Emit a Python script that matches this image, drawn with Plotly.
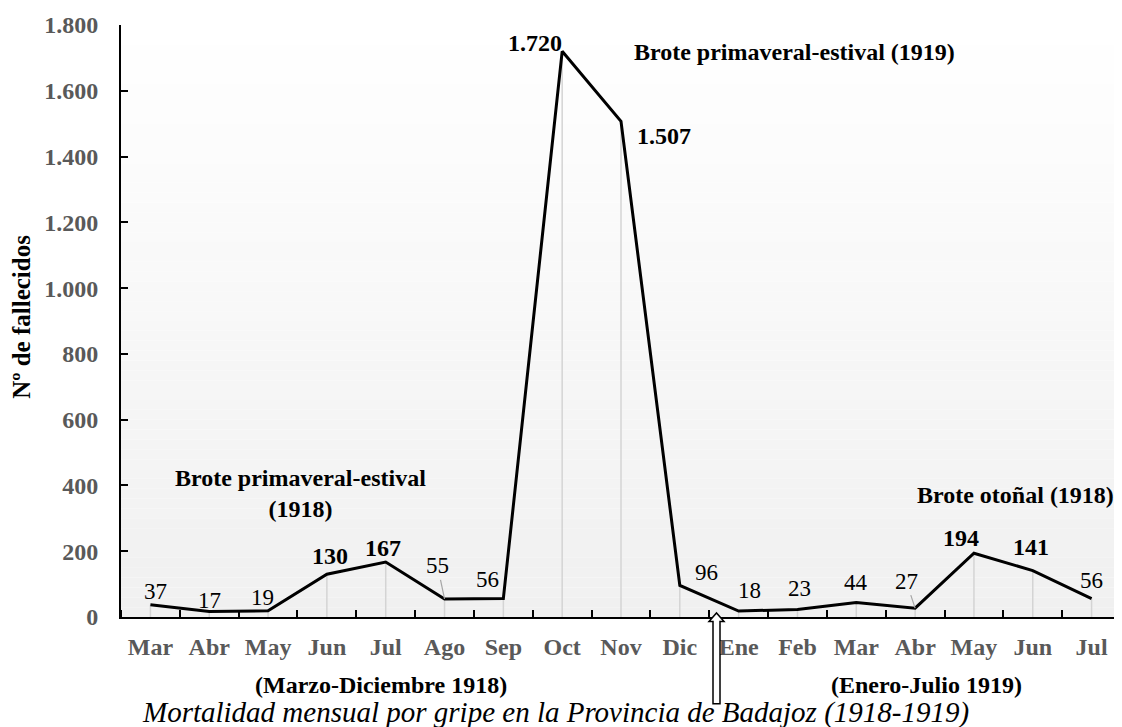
import plotly.graph_objects as go

# ---- data ----
months = ["Mar", "Abr", "May", "Jun", "Jul", "Ago", "Sep", "Oct", "Nov", "Dic",
          "Ene", "Feb", "Mar", "Abr", "May", "Jun", "Jul"]
deaths = [37, 17, 19, 130, 167, 55, 56, 1720, 1507, 96,
          18, 23, 44, 27, 194, 141, 56]
bold_label = [False, False, False, True, True, False, False, True, True, False,
              False, False, False, False, True, True, False]
y_ticks = [0, 200, 400, 600, 800, 1000, 1200, 1400, 1600, 1800]

# ---- label placement (pixel offsets from the point) ----
label_dx = [5, 0, -6, 3, -3, -7, -16, -27, 43, 27, 11, 2, 0, -9, -13, -2, 0]
label_dy = [13, 11, 13, 18, 14, 33, 19, 8, -15, 13, 21, 21, 20, 27, 15, 24, 18]
leader = [False, False, False, False, False, True, False, False, False, False,
          False, False, False, True, False, False, False]

FONT = "Liberation Serif"
x_idx = list(range(len(months)))


def fmt(v):
    return f"{v:,}".replace(",", ".")


fig = go.Figure()

# gradient plot background (white at top -> light grey at bottom)
N = 60
for k in range(N):
    y0 = k / N
    y1 = (k + 1) / N
    c = round(240 + 15 * (k + 0.5) / N)
    fig.add_shape(type="rect", xref="paper", yref="paper", x0=0, x1=1, y0=y0, y1=y1,
                  fillcolor=f"rgb({c},{c},{c})", line=dict(width=0), layer="below")

# drop lines
dx, dy = [], []
for i, v in zip(x_idx, deaths):
    dx += [i, i, None]
    dy += [0, v, None]
fig.add_trace(go.Scatter(x=dx, y=dy, mode="lines",
                         line=dict(color="#d4d4d4", width=1.5),
                         hoverinfo="skip", showlegend=False))

# main line
fig.add_trace(go.Scatter(x=x_idx, y=deaths, mode="lines",
                         line=dict(color="black", width=3),
                         showlegend=False))

# data labels
for i, v in enumerate(deaths):
    txt = fmt(v)
    size = 23
    if bold_label[i]:
        txt = f"<b>{txt}</b>"
        size = 24
    if leader[i]:
        fig.add_annotation(x=i, y=v, xref="x", yref="y", text=txt, showarrow=True,
                           ax=label_dx[i], ay=-label_dy[i], arrowhead=0,
                           arrowcolor="#a6a6a6", arrowwidth=1.2, standoff=0,
                           font=dict(family=FONT, size=size, color="black"))
    else:
        fig.add_annotation(x=i, y=v, xref="x", yref="y", text=txt, showarrow=False,
                           xshift=label_dx[i], yshift=label_dy[i],
                           xanchor="center", yanchor="middle",
                           font=dict(family=FONT, size=size, color="black"))

# text annotations
ann_font = dict(family=FONT, size=24, color="black")
fig.add_annotation(xref="paper", yref="paper", x=0.179, y=0.208,
                   text="<b>Brote primaveral-estival<br>(1918)</b>",
                   showarrow=False, font=ann_font, xanchor="center", yanchor="middle")
fig.add_annotation(xref="paper", yref="paper", x=0.673, y=0.954,
                   text="<b>Brote primaveral-estival (1919)</b>",
                   showarrow=False, font=ann_font, xanchor="center", yanchor="middle")
fig.add_annotation(xref="paper", yref="paper", x=0.894, y=0.206,
                   text="<b>Brote otoñal (1918)</b>",
                   showarrow=False, font=ann_font, xanchor="center", yanchor="middle")
fig.add_annotation(xref="paper", yref="paper", x=0.260, y=-0.115,
                   text="<b>(Marzo-Diciembre 1918)</b>",
                   showarrow=False, font=ann_font, xanchor="center", yanchor="middle")
fig.add_annotation(xref="paper", yref="paper", x=0.805, y=-0.115,
                   text="<b>(Enero-Julio 1919)</b>",
                   showarrow=False, font=ann_font, xanchor="center", yanchor="middle")
fig.add_annotation(xref="paper", yref="paper", x=0.434, y=-0.162,
                   text="<i>Mortalidad mensual por gripe en la Provincia de Badajoz (1918-1919)</i>",
                   showarrow=False, font=dict(family=FONT, size=29, color="black"),
                   xanchor="center", yanchor="middle")
fig.add_annotation(xref="paper", yref="paper", x=-0.099, y=0.507,
                   text="<b>Nº de fallecidos</b>", textangle=-90,
                   showarrow=False, font=dict(family=FONT, size=25, color="black"),
                   xanchor="center", yanchor="middle")

# hollow up-arrow
cx = 0.5955
hw, sw = 0.0075, 0.0035
tip, base, bot = 0.0068, -0.0075, -0.1465
path = (f"M {cx - sw} {bot} L {cx - sw} {base} L {cx - hw} {base} L {cx} {tip} "
        f"L {cx + hw} {base} L {cx + sw} {base} L {cx + sw} {bot} Z")
fig.add_shape(type="path", xref="paper", yref="paper", path=path,
              fillcolor="white", line=dict(color="black", width=1.5), layer="above")

# the page body adds an 8px margin; size the figure so the plot sits where it should
fig.update_layout(
    width=1114, height=719,
    margin=dict(l=113, r=1, t=17, b=110),
    paper_bgcolor="white", plot_bgcolor="white",
    separators=",.",
    showlegend=False,
)
fig.update_xaxes(
    range=[-0.5, len(months) - 0.5],
    tickmode="array", tickvals=x_idx, ticktext=months,
    ticks="", showgrid=False, zeroline=False,
    showline=True, linecolor="black", linewidth=2,
    tickfont=dict(family=FONT, size=24, color="#595959", weight="bold"),
    ticklabelstandoff=7,
    minor=dict(tick0=0.5, dtick=1, ticks="inside", ticklen=7, tickwidth=2,
               tickcolor="black", showgrid=False),
)
fig.update_yaxes(
    range=[0, 1800], tickmode="array", tickvals=y_ticks,
    tickformat=",d",
    ticks="inside", ticklen=7, tickwidth=2, tickcolor="black",
    showgrid=False, zeroline=False,
    showline=True, linecolor="black", linewidth=2,
    tickfont=dict(family=FONT, size=24, color="#595959", weight="bold"),
    ticklabelstandoff=16,
)

fig.write_html("out.html")
